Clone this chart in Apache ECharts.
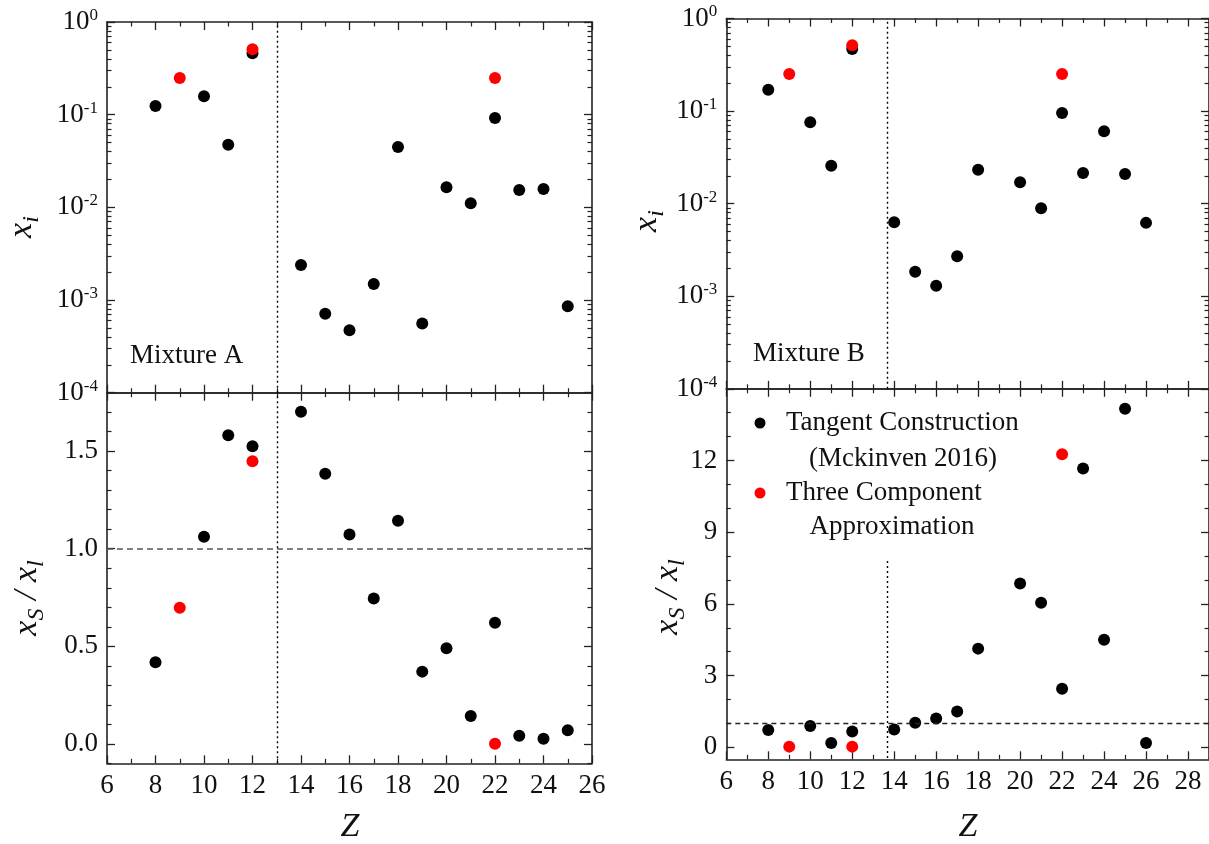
<!DOCTYPE html>
<html>
<head>
<meta charset="utf-8">
<script src="https://cdn.jsdelivr.net/npm/echarts@6/dist/echarts.min.js"></script>
<style>
html,body{margin:0;padding:0;background:#fff;}
#chart{width:1209px;height:844px;}
</style>
</head>
<body>
<div id="chart"></div>
<script>
// ---------------- data ----------------
const zA_tangent = [8, 10, 11, 12, 14, 15, 16, 17, 18, 19, 20, 21, 22, 23, 24, 25];
const xiA_tangent = [0.124, 0.158, 0.0475, 0.459, 0.00239, 0.000713, 0.000472, 0.00149, 0.0448, 0.000557, 0.0165, 0.0111, 0.0921, 0.0154, 0.0158, 0.000857];
const ratioA_tangent = [0.418, 1.062, 1.582, 1.525, 1.702, 1.385, 1.073, 0.745, 1.144, 0.370, 0.490, 0.142, 0.621, 0.041, 0.026, 0.070];
const zA_three = [9, 12, 22];
const xiA_three = [0.249, 0.507, 0.249];
const ratioA_three = [0.697, 1.448, 0.0];

const zB_tangent = [8, 10, 11, 12, 14, 15, 16, 17, 18, 20, 21, 22, 23, 24, 25, 26];
const xiB_tangent = [0.170, 0.0756, 0.0257, 0.468, 0.00628, 0.00184, 0.0013, 0.0027, 0.0232, 0.0170, 0.0089, 0.0953, 0.0214, 0.0604, 0.0209, 0.0062];
const ratioB_tangent = [0.73, 0.89, 0.18, 0.66, 0.75, 1.03, 1.21, 1.50, 4.13, 6.85, 6.05, 2.45, 11.67, 4.50, 14.17, 0.18];
const zB_three = [9, 12, 22];
const xiB_three = [0.251, 0.513, 0.251];
const ratioB_three = [0.03, 0.03, 12.26];

// tick labels / tick positions
const xTicksA = [6, 8, 10, 12, 14, 16, 18, 20, 22, 24, 26];
const xMinorA = [7, 9, 11, 13, 15, 17, 19, 21, 23, 25];
const xTicksB = [6, 8, 10, 12, 14, 16, 18, 20, 22, 24, 26, 28];
const xMinorB = [7, 9, 11, 13, 15, 17, 19, 21, 23, 25, 27];
const logTicks = [1e-4, 1e-3, 1e-2, 1e-1, 1];
const ratioTicksA = [0.0, 0.5, 1.0, 1.5];
const ratioMinorA = [-0.1, 0.1, 0.2, 0.3, 0.4, 0.6, 0.7, 0.8, 0.9, 1.1, 1.2, 1.3, 1.4, 1.6, 1.7];
const ratioTicksB = [0, 3, 6, 9, 12];
const ratioMinorB = [1, 2, 4, 5, 7, 8, 10, 11, 13, 14];
const legendNames = ['Tangent Construction', '(Mckinven 2016)', 'Three Component', 'Approximation'];
const panelNames = ['Mixture A', 'Mixture B'];

const logMinor = [];
for (let k = -4; k < 0; k++) for (let m = 2; m <= 9; m++) logMinor.push(+(m * Math.pow(10, k)).toPrecision(3));

// ---------------- helpers ----------------
const FONT = 'Liberation Serif';
const AX = '#222';
const xAxes = [], yAxes = [];

function addX(grid, min, max, majors, minors, showLabels) {
  const base = {type: 'value', gridIndex: grid, min: min, max: max, splitLine: {show: false}};
  const idx = xAxes.length;
  ['bottom', 'top'].forEach(function (pos) {
    xAxes.push(Object.assign({}, base, {
      position: pos,
      axisLine: {show: true, onZero: false, lineStyle: {color: AX, width: 1.6}},
      axisTick: {show: true, inside: true, length: 8, customValues: majors, lineStyle: {color: AX, width: 1.3}},
      axisLabel: {show: showLabels && pos === 'bottom', customValues: majors, fontFamily: FONT, fontSize: 27, color: '#111', margin: 9}
    }));
    xAxes.push(Object.assign({}, base, {
      position: pos,
      axisLine: {show: false, onZero: false},
      axisTick: {show: true, inside: true, length: 4.5, customValues: minors, lineStyle: {color: AX, width: 1.2}},
      axisLabel: {show: false}
    }));
  });
  return idx;
}

function addY(grid, type, min, max, majors, minors, labelCfg) {
  const base = {type: type, gridIndex: grid, min: min, max: max, splitLine: {show: false}};
  if (type === 'log') base.logBase = 10;
  const idx = yAxes.length;
  ['left', 'right'].forEach(function (pos) {
    yAxes.push(Object.assign({}, base, {
      position: pos,
      axisLine: {show: true, onZero: false, lineStyle: {color: AX, width: 1.6}},
      axisTick: {show: true, inside: true, length: 8, customValues: majors, lineStyle: {color: AX, width: 1.3}},
      axisLabel: pos === 'left' ? Object.assign({show: true, customValues: majors, margin: 9}, labelCfg) : {show: false}
    }));
    yAxes.push(Object.assign({}, base, {
      position: pos,
      axisLine: {show: false, onZero: false},
      axisTick: {show: true, inside: true, length: 4.5, customValues: minors, lineStyle: {color: AX, width: 1.2}},
      axisLabel: {show: false}
    }));
  });
  return idx;
}

const logLabel = {
  formatter: function (v) {
    const e = Math.round(Math.log10(v));
    return '{b|10}{s|' + e + '}';
  },
  rich: {
    b: {fontFamily: FONT, fontSize: 27, lineHeight: 30, color: '#111'},
    s: {fontFamily: FONT, fontSize: 17, lineHeight: 17, color: '#111', verticalAlign: 'top'}
  }
};
const linLabelA = {fontFamily: FONT, fontSize: 27, color: '#111', formatter: function (v) { return v.toFixed(1); }};
const linLabelB = {fontFamily: FONT, fontSize: 27, color: '#111', formatter: function (v) { return String(v); }};

const grids = [
  {left: 107, top: 22, width: 485, height: 370.7},
  {left: 107, top: 392.7, width: 485, height: 370.6},
  {left: 726.3, top: 18.5, width: 483, height: 370.3},
  {left: 726.3, top: 388.8, width: 483, height: 370.5}
];

const x0 = addX(0, 6, 26, xTicksA, xMinorA, false);
const x1 = addX(1, 6, 26, xTicksA, xMinorA, true);
const x2 = addX(2, 6, 29, xTicksB, xMinorB, false);
const x3 = addX(3, 6, 29, xTicksB, xMinorB, true);
const y0 = addY(0, 'log', 1e-4, 1, logTicks, logMinor, logLabel);
const y1 = addY(1, 'value', -0.1, 1.8, ratioTicksA, ratioMinorA, linLabelA);
const y2 = addY(2, 'log', 1e-4, 1, logTicks, logMinor, logLabel);
const y3 = addY(3, 'value', -0.5, 15, ratioTicksB, ratioMinorB, linLabelB);

function pts(zs, vs) { return zs.map(function (z, i) { return [z, vs[i]]; }); }

const dotted = {type: [2, 3], color: '#000', width: 1.4};
function scatter(xi, yi, data, color, markLine) {
  const s = {
    type: 'scatter', xAxisIndex: xi, yAxisIndex: yi, data: data,
    symbol: 'circle', symbolSize: 12, itemStyle: {color: color, opacity: 1},
    silent: true
  };
  if (markLine) s.markLine = Object.assign({silent: true, symbol: 'none', label: {show: false}, animation: false}, markLine);
  return s;
}

const option = {
  animation: false,
  backgroundColor: '#fff',
  grid: grids,
  xAxis: xAxes,
  yAxis: yAxes,
  series: [
    scatter(x0, y0, pts(zA_tangent, xiA_tangent), '#000', {lineStyle: dotted, data: [{xAxis: 13}]}),
    scatter(x0, y0, pts(zA_three, xiA_three), '#ff0000'),
    scatter(x1, y1, pts(zA_tangent, ratioA_tangent), '#000', {lineStyle: dotted, data: [
      {xAxis: 13},
      {yAxis: 1, lineStyle: {type: [6, 4], color: '#555', width: 1.5}}
    ]}),
    scatter(x1, y1, pts(zA_three, ratioA_three), '#ff0000'),
    scatter(x2, y2, pts(zB_tangent, xiB_tangent), '#000', {lineStyle: dotted, data: [{xAxis: 13.67}]}),
    scatter(x2, y2, pts(zB_three, xiB_three), '#ff0000'),
    scatter(x3, y3, pts(zB_tangent, ratioB_tangent), '#000', {lineStyle: dotted, data: [
      [{coord: [13.67, 7.8]}, {coord: [13.67, -0.5]}],
      {yAxis: 1, lineStyle: {type: [5, 4], color: '#222', width: 1.4}}
    ]}),
    scatter(x3, y3, pts(zB_three, ratioB_three), '#ff0000')
  ],
  graphic: [
    // panel names
    {type: 'text', left: 130, top: 342, style: {text: panelNames[0], font: '27px "Liberation Serif"', fill: '#111'}},
    {type: 'text', left: 753, top: 340, style: {text: panelNames[1], font: '27px "Liberation Serif"', fill: '#111'}},
    // legend
    {type: 'circle', shape: {cx: 760, cy: 423, r: 5.5}, style: {fill: '#000'}},
    {type: 'circle', shape: {cx: 760, cy: 493, r: 5.5}, style: {fill: '#ff0000'}},
    {type: 'text', x: 786, y: 423, style: {text: legendNames[0], font: '27px "Liberation Serif"', fill: '#111', verticalAlign: 'middle', align: 'left'}},
    {type: 'text', x: 903, y: 459, style: {text: legendNames[1], font: '27px "Liberation Serif"', fill: '#111', verticalAlign: 'middle', align: 'center'}},
    {type: 'text', x: 786, y: 493, style: {text: legendNames[2], font: '27px "Liberation Serif"', fill: '#111', verticalAlign: 'middle', align: 'left'}},
    {type: 'text', x: 892, y: 527, style: {text: legendNames[3], font: '27px "Liberation Serif"', fill: '#111', verticalAlign: 'middle', align: 'center'}},
    // axis titles
    {type: 'text', x: 350, y: 827, style: {text: 'Z', font: 'italic 34px "Liberation Serif"', fill: '#111', align: 'center', verticalAlign: 'middle'}},
    {type: 'text', x: 968, y: 827, style: {text: 'Z', font: 'italic 34px "Liberation Serif"', fill: '#111', align: 'center', verticalAlign: 'middle'}},
    yTitle(22, 227, '{x|x}{s|i}'),
    yTitle(647, 221, '{x|x}{s|i}'),
    yTitle(27, 598, '{x|x}{s|S}{x| / x}{s|l}'),
    yTitle(668, 597, '{x|x}{s|S}{x| / x}{s|l}')
  ]
};

function yTitle(cx, cy, txt) {
  return {
    type: 'text', x: cx, y: cy, rotation: Math.PI / 2,
    style: {
      text: txt, align: 'center', verticalAlign: 'middle',
      rich: {
        x: {fontFamily: FONT, fontStyle: 'italic', fontSize: 34, lineHeight: 44, fill: '#111', color: '#111'},
        s: {fontFamily: FONT, fontStyle: 'italic', fontSize: 24, lineHeight: 24, fill: '#111', color: '#111', verticalAlign: 'bottom'}
      }
    }
  };
}

const chart = echarts.init(document.getElementById('chart'), null, {renderer: 'canvas'});
chart.setOption(option);
</script>
</body>
</html>
